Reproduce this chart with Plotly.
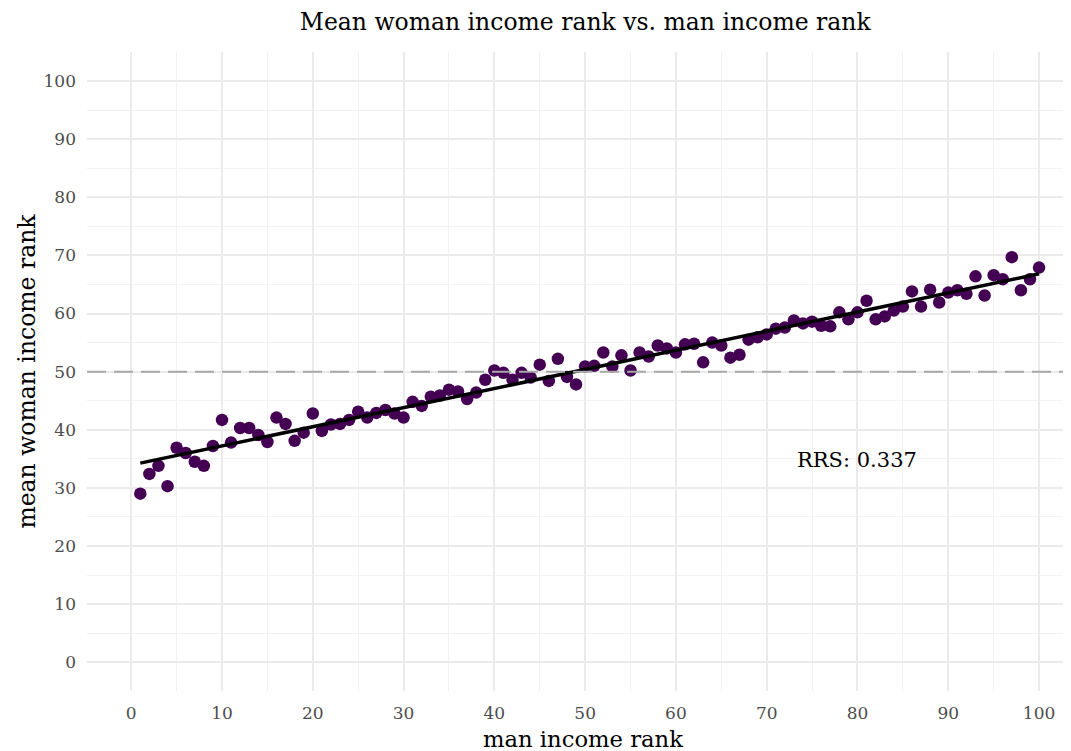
import numpy as np
import plotly.graph_objects as go

man_rank = list(range(1, 101))
woman_mean_rank = [
    29.0, 32.4, 33.8, 30.3, 36.9, 36.0, 34.5, 33.8, 37.2, 41.7,
    37.8, 40.3, 40.3, 39.1, 37.9, 42.1, 41.0, 38.1, 39.5, 42.8,
    39.8, 40.9, 41.0, 41.7, 43.1, 42.1, 42.9, 43.4, 42.8, 42.1,
    44.8, 44.1, 45.7, 45.9, 46.9, 46.6, 45.3, 46.4, 48.6, 50.2,
    49.8, 48.6, 49.8, 49.0, 51.2, 48.4, 52.2, 49.1, 47.8, 50.9,
    51.0, 53.3, 50.9, 52.8, 50.2, 53.3, 52.6, 54.5, 54.0, 53.3,
    54.7, 54.8, 51.6, 55.0, 54.5, 52.4, 52.9, 55.5, 55.9, 56.4,
    57.4, 57.6, 58.8, 58.3, 58.6, 57.9, 57.8, 60.2, 59.0, 60.2,
    62.2, 59.0, 59.5, 60.5, 61.2, 63.8, 61.2, 64.1, 61.9, 63.6,
    64.0, 63.4, 66.4, 63.1, 66.6, 65.9, 69.7, 64.0, 65.9, 67.9,
]
x_ticks = [0, 10, 20, 30, 40, 50, 60, 70, 80, 90, 100]
y_ticks = [0, 10, 20, 30, 40, 50, 60, 70, 80, 90, 100]
reference_level = 50
rrs_label = "RRS: 0.337"

xa = np.array(man_rank, dtype=float)
ya = np.array(woman_mean_rank, dtype=float)
slope, intercept = np.polyfit(xa, ya, 1)
fit_x = [xa.min(), xa.max()]
fit_y = [intercept + slope * v for v in fit_x]

FONT = "DejaVu Serif"

fig = go.Figure()
fig.add_trace(go.Scatter(
    x=man_rank, y=woman_mean_rank, mode="markers",
    marker=dict(color="#440154", size=12.5, line=dict(width=0)),
    showlegend=False, hoverinfo="skip",
))
fig.add_trace(go.Scatter(
    x=fit_x, y=fit_y, mode="lines",
    line=dict(color="black", width=3.5),
    showlegend=False, hoverinfo="skip",
))
fig.add_shape(type="line", xref="paper", x0=0, x1=1, yref="y",
              y0=reference_level, y1=reference_level,
              line=dict(color="#a8a8a8", width=2, dash="19px,8px"), layer="above")
fig.add_annotation(x=80, y=34.8, text=rrs_label, showarrow=False,
                   font=dict(family=FONT, size=21, color="black"))

axis_common = dict(
    showgrid=True, gridcolor="#ebebeb", gridwidth=2,
    zeroline=False, showline=False, ticks="",
    tickfont=dict(family=FONT, size=17, color="#4d4d4d"),
    minor=dict(showgrid=True, gridcolor="#f2f2f2", gridwidth=1, dtick=5),
    automargin=False,
)
fig.update_xaxes(range=[-4.87, 104.4], tickvals=x_ticks, ticklabelstandoff=10,
                 title=dict(text="man income rank", font=dict(family=FONT, size=22.7, color="black"), standoff=9),
                 **axis_common)
fig.update_yaxes(range=[-4.95, 105], tickvals=y_ticks, ticklabelstandoff=10,
                 title=dict(text="mean woman income rank", font=dict(family=FONT, size=23.5, color="black"), standoff=1),
                 **axis_common)
fig.update_layout(
    width=1071, height=751,
    margin=dict(l=79, r=0, t=44, b=68),
    plot_bgcolor="white", paper_bgcolor="white",
    title=dict(text="Mean woman income rank vs. man income rank",
               x=0.539, xanchor="center", y=0.981, yanchor="middle",
               font=dict(family=FONT, size=23.5, color="black")),
    font=dict(family=FONT),
)
fig.write_html("out.html")
